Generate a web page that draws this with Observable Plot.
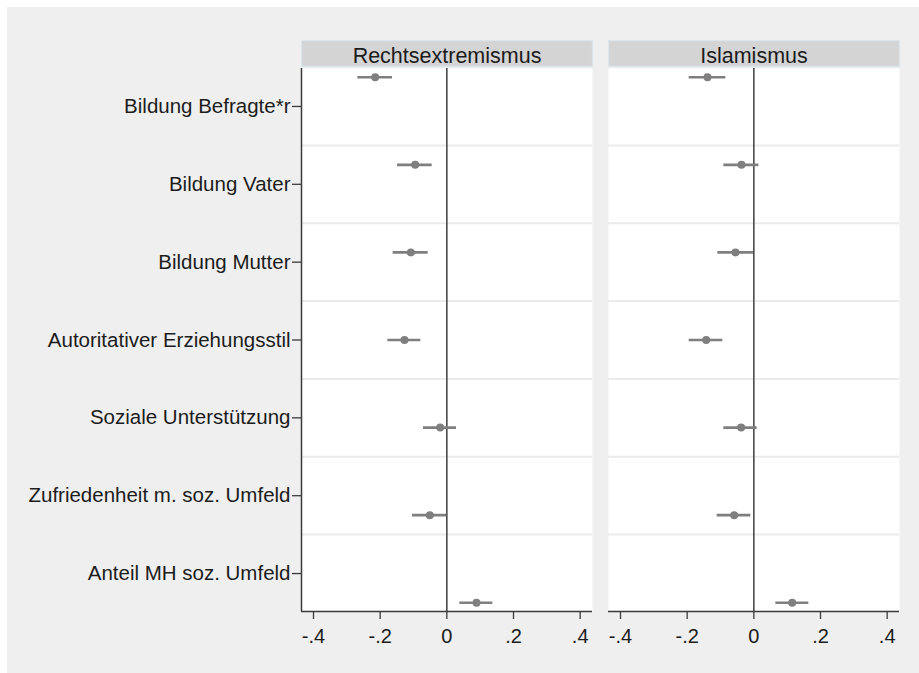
<!DOCTYPE html>
<html>
<head>
<meta charset="utf-8">
<script src="https://cdn.jsdelivr.net/npm/d3@7"></script>
<script src="https://cdn.jsdelivr.net/npm/@observablehq/plot@0.6"></script>
<style>
  html, body { margin: 0; padding: 0; background: #efefef; }
  body { box-shadow: inset 7px 7px 0 0 #ffffff; min-width: 1200px; min-height: 1000px; }
  #chart { position: absolute; left: 0; top: 0; }
</style>
</head>
<body>
<div id="chart"></div>
<script>
// ---- data ----
const categories = [
  "Bildung Befragte*r",
  "Bildung Vater",
  "Bildung Mutter",
  "Autoritativer Erziehungsstil",
  "Soziale Unterstützung",
  "Zufriedenheit m. soz. Umfeld",
  "Anteil MH soz. Umfeld"
];
const panels = ["Rechtsextremismus", "Islamismus"];

const rechtsEst = [-0.215, -0.095, -0.108, -0.127, -0.020, -0.051, 0.089];
const rechtsLo  = [-0.267, -0.148, -0.161, -0.177, -0.070, -0.103, 0.039];
const rechtsHi  = [-0.163, -0.044, -0.056, -0.078, 0.029, -0.001, 0.138];

const islamEst = [-0.139, -0.037, -0.055, -0.143, -0.038, -0.059, 0.115];
const islamLo  = [-0.194, -0.090, -0.108, -0.194, -0.090, -0.110, 0.066];
const islamHi  = [-0.084, 0.015, -0.001, -0.093, 0.010, -0.009, 0.165];

const xTicks = [-0.4, -0.2, 0, 0.2, 0.4];

// ---- build table ----
const rows = [];
categories.forEach((c, i) => {
  rows.push({panel: panels[0], cat: c, i, est: rechtsEst[i], lo: rechtsLo[i], hi: rechtsHi[i]});
  rows.push({panel: panels[1], cat: c, i, est: islamEst[i], lo: islamLo[i], hi: islamHi[i]});
});

const W = 919, H = 673;
const mTop = 68, mBottom = 62, mLeft = 301, mRight = 19;
const innerH = H - mTop - mBottom;
const xDomain = [-0.436, 0.437];
const n = categories.length;
const mid = (n - 1) / 2;
const yDomain = [-0.1, n - 1 + 0.1];
// Stata-style label positions (compressed around the centre) and band separators
const labelPos = categories.map((c, k) => mid + (k - mid) * 8 / 9);
const sepPos = d3.range(n - 1).map(k => (labelPos[k] + labelPos[k + 1]) / 2);

const fmtX = d => d === 0 ? "0" : (d < 0 ? "-" : "") + String(Math.abs(d)).replace(/^0/, "");
const fmtY = d => categories[Math.round((d - mid) * 9 / 8 + mid)];

const font = "'Liberation Sans', Arial, Helvetica, sans-serif";
const dark = "#3a3a3a";
const markColor = "#7f7f7f";

const plot = Plot.plot({
  width: W,
  height: H,
  marginTop: mTop,
  marginBottom: mBottom,
  marginLeft: mLeft,
  marginRight: mRight,
  style: {background: "transparent", fontFamily: font, color: "#1c1c1c"},
  fx: {domain: panels, paddingInner: 0.052, paddingOuter: 0, label: null},
  x: {domain: xDomain, label: null},
  y: {domain: yDomain, reverse: true, label: null},
  marks: [
    // strip header
    Plot.frame({fill: "#d4d4d4", stroke: "#dce5eb", strokeWidth: 1.2, insetTop: -28, insetBottom: innerH + 2}),
    // white panel
    Plot.frame({fill: "white", stroke: "none"}),
    // separators
    Plot.ruleY(sepPos, {stroke: "#ebebeb", strokeWidth: 2}),
    // zero line
    Plot.ruleX([0], {stroke: "#4a4a4a", strokeWidth: 1.6}),
    // axis lines
    Plot.ruleX([xDomain[0]], {fx: [panels[0]], stroke: dark, strokeWidth: 1.5}),
    Plot.ruleY([yDomain[1]], {stroke: dark, strokeWidth: 1.5}),
    // CI and estimates
    Plot.ruleY(rows, {fx: "panel", y: "i", x1: "lo", x2: "hi", stroke: markColor, strokeWidth: 2.6}),
    Plot.dot(rows, {fx: "panel", y: "i", x: "est", r: 4, fill: markColor, stroke: "none"}),
    // axes
    Plot.axisX({ticks: xTicks, tickFormat: fmtX, tickSize: 8, tickPadding: 9, fontSize: 20, stroke: dark, strokeWidth: 1.3, label: null}),
    Plot.axisY({ticks: labelPos, tickFormat: fmtY, tickSize: 9, tickPadding: 2, fontSize: 20.5, stroke: dark, strokeWidth: 1.3, label: null}),
    Plot.axisFx({anchor: "top", tickSize: 0, tickPadding: 6, fontSize: 21.5, label: null})
  ]
});
document.getElementById("chart").appendChild(plot);
</script>
</body>
</html>
